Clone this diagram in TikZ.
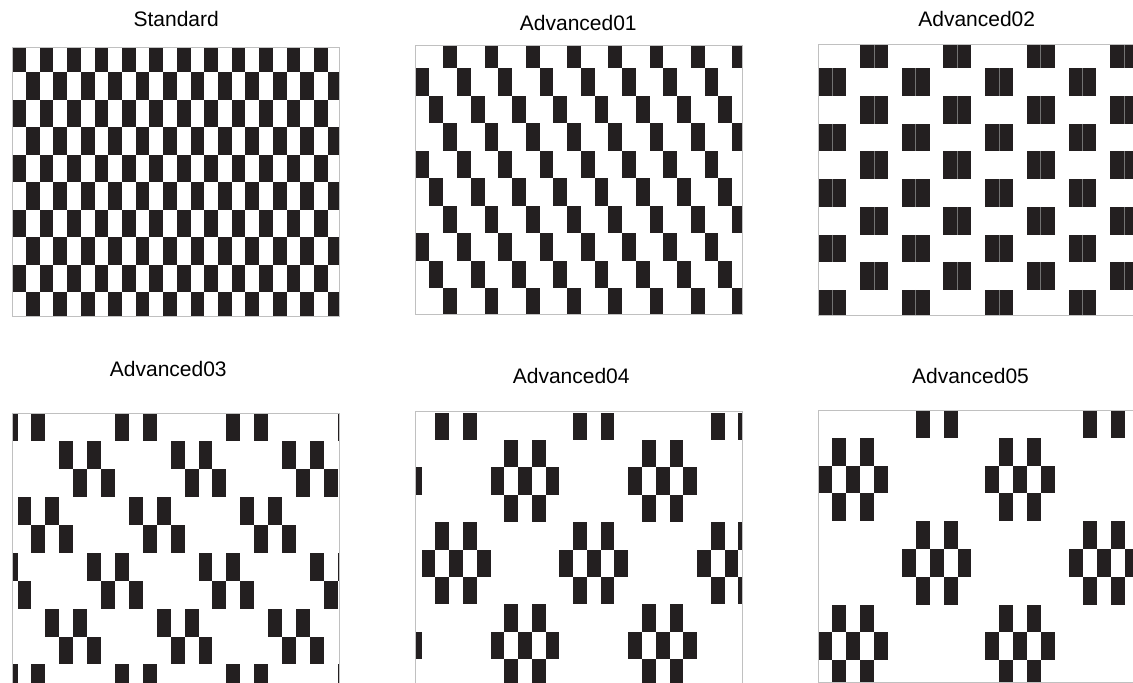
\documentclass[tikz,border=0pt]{standalone}
\usepackage{fontspec}
\setmainfont{Liberation Sans}
\usepackage{tikz}
\definecolor{ink}{RGB}{35,31,32}
\definecolor{rim}{RGB}{192,192,192}
\tikzset{
    tile/.style={fill=ink},
    seam/.style={draw=black!55, line width=0.6pt},
    panelframe/.style={draw=rim, line width=1pt}
}

\begin{document}
\begin{tikzpicture}[
    x=1pt, y=-1pt,
    caption/.style={anchor=base, inner sep=0pt, font=\fontsize{21}{24}\selectfont}
]
    \useasboundingbox (0,0) rectangle (1133,683);
    \clip (0,0) rectangle (1133,683);

    % --- Panel 1: Standard (top left) ---
    \node[caption] (std) at (176.2,26) {Standard};
    \begin{scope}[shift={(12.3,47.3)}]
        \begin{scope}
            \clip (0,0) rectangle (326.7,269.4);
            % plain checkerboard
            \foreach \r in {0,...,9}
                \foreach \c in {0,2,...,24}
                    \fill[tile] ({(\c+mod(\r,2))*13.71}, {\r*27.5-2.5}) rectangle +(13.71,27.5);
        \end{scope}
        \draw[panelframe] (0,0) rectangle (326.7,269.4);
    \end{scope}

    % --- Panel 2: Advanced01 (top middle) ---
    \node[caption] (adv01) at (578.3,30) {Advanced01};
    \begin{scope}[shift={(415.7,45.7)}]
        \begin{scope}
            \clip (0,0) rectangle (326.6,268.6);
            % one tile every third column, stepping right row by row
            \foreach \r in {0,...,9}
                \foreach \k in {0,...,8}
                    \fill[tile] ({(3*\k+mod(\r+2,3))*13.76}, {\r*27.5-4.9}) rectangle +(13.76,27.5);
        \end{scope}
        \draw[panelframe] (0,0) rectangle (326.6,268.6);
    \end{scope}

    % --- Panel 3: Advanced02 (top right) ---
    \node[caption] (adv02) at (976.7,26.7) {Advanced02};
    \begin{scope}[shift={(818.3,44)}]
        \begin{scope}
            \clip (0,0) rectangle (326,271);
            % double tiles, shifted by three columns on even rows
            \foreach \r in {0,...,9}
                \foreach \k in {-1,...,4} {
                    \fill[tile] ({(6*\k+3-3*mod(\r,2))*13.9}, {\r*27.7-3.4}) rectangle +(27.8,27.7);
                    \draw[seam] ({(6*\k+4-3*mod(\r,2))*13.9}, {\r*27.7-3.4}) -- +(0,27.7);
                }
        \end{scope}
        \draw[panelframe] (0,0) rectangle (326,271);
    \end{scope}

    % --- Panel 4: Advanced03 (bottom left) ---
    \node[caption] (adv03) at (168.3,376.7) {Advanced03};
    \begin{scope}[shift={(12.3,413.3)}]
        \begin{scope}
            \clip (0,0) rectangle (326.7,272);
            % pairs of tiles, offset per row (period of 8 columns)
            \foreach \r/\o in {0/0,1/4,2/5,3/1,4/2,5/6,6/7,7/3,8/4,9/0}
                \foreach \k in {-2,...,2}
                    \foreach \d in {0,2}
                        \fill[tile] ({102.7+(8*\k+\o+\d)*13.92}, {\r*27.9}) rectangle +(13.92,27.9);
        \end{scope}
        \draw[panelframe] (0,0) rectangle (326.7,272);
    \end{scope}

    % --- Panel 5: Advanced04 (bottom middle) ---
    \node[caption] (adv04) at (571.2,383.3) {Advanced04};
    \begin{scope}[shift={(415.7,411.7)}]
        \begin{scope}
            \clip (0,0) rectangle (326.6,272);
            % diamonds, period of 10 columns and 6 rows
            \foreach \r/\cols in {0/{1,3},1/{6,8},2/{5,7,9},3/{6,8},4/{1,3},
                                  5/{0,2,4},6/{1,3},7/{6,8},8/{5,7,9},9/{6,8}}
                \foreach \k in {-1,...,2}
                    \foreach \c in \cols
                        \fill[tile] ({6+(10*\k+\c)*13.77}, {0.8+\r*27.4}) rectangle +(13.77,27.4);
        \end{scope}
        \draw[panelframe] (0,0) rectangle (326.6,272);
    \end{scope}

    % --- Panel 6: Advanced05 (bottom right) ---
    \node[caption] (adv05) at (970.5,383.3) {Advanced05};
    \begin{scope}[shift={(818.3,410.7)}]
        \begin{scope}
            \clip (0,0) rectangle (326,272);
            % diamonds, period of 12 columns and 6 rows
            \foreach \r/\cols in {0/{7,9},1/{1,3},2/{0,2,4},3/{1,3},4/{7,9},
                                  5/{6,8,10},6/{7,9},7/{1,3},8/{0,2,4},9/{1,3}}
                \foreach \k in {-1,...,2}
                    \foreach \c in \cols
                        \fill[tile] ({(12*\k+\c)*13.92}, {\r*27.8-0.8}) rectangle +(13.92,27.8);
        \end{scope}
        \draw[panelframe] (0,0) rectangle (326,272);
    \end{scope}

\end{tikzpicture}
\end{document}
